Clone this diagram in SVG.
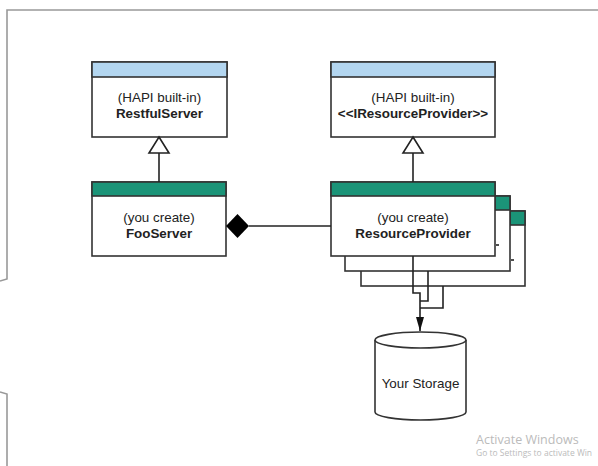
<svg xmlns="http://www.w3.org/2000/svg" width="598" height="466" viewBox="0 0 598 466">
<style>
.box{fill:#fff;stroke:#333;stroke-width:1.6}
.blue{fill:#b3d6f0;stroke:#333;stroke-width:1.6}
.green{fill:#1b9478;stroke:#333;stroke-width:1.6}
.ln{fill:none;stroke:#222;stroke-width:1.6}
.t{font-family:"Liberation Sans",Arial,sans-serif;font-size:13.4px;fill:#222;text-anchor:middle}
.b{font-weight:bold}
.frame{fill:none;stroke:#999;stroke-width:1.6}
.wm{font-family:"Open Sans","Liberation Sans",sans-serif;fill:#bbb}
</style>
<defs>
<marker id="tri" viewBox="0 0 22 17" refX="11" refY="0" markerWidth="22" markerHeight="17" markerUnits="userSpaceOnUse" orient="0" overflow="visible">
<polygon points="11,0 21,16 1,16" fill="#fff" stroke="#222" stroke-width="1.6"/>
</marker>
<marker id="arr" viewBox="0 0 8 14" refX="4" refY="14" markerWidth="8" markerHeight="14" markerUnits="userSpaceOnUse" orient="0">
<polygon points="0,0 8,0 4,14" fill="#111"/>
</marker>
</defs>
<rect width="598" height="466" fill="#fff"/>
<path class="frame" d="M598,10 H7 V279 L0,281"/>
<path class="frame" d="M0,392 L7,394 V466"/>

<g id="restfulserver">
<rect class="box" x="92" y="62" width="135" height="75"/>
<rect class="blue" x="92" y="62" width="135" height="15"/>
<text class="t" x="159.5" y="102">(HAPI built-in)</text>
<text class="t b" x="159.5" y="118">RestfulServer</text>
</g>

<g id="iresourceprovider">
<rect class="box" x="331" y="62" width="164" height="75"/>
<rect class="blue" x="331" y="62" width="164" height="15"/>
<text class="t" x="413" y="102">(HAPI built-in)</text>
<text class="t b" x="413" y="118">&lt;&lt;IResourceProvider&gt;&gt;</text>
</g>

<g id="fooserver">
<rect class="box" x="92" y="182" width="134" height="74"/>
<rect class="green" x="92" y="182" width="134" height="14"/>
<text class="t" x="159" y="222">(you create)</text>
<text class="t b" x="159" y="238">FooServer</text>
</g>

<g id="resourceprovider">
<rect class="box" x="361" y="211" width="164" height="75"/>
<rect class="green" x="510" y="211" width="15" height="14"/>
<rect class="box" x="345" y="196" width="165" height="75"/>
<rect class="green" x="495" y="196" width="15" height="14"/>
<rect class="box" x="331" y="182" width="164" height="74"/>
<rect class="green" x="331" y="182" width="164" height="14"/>
<text class="t" x="413" y="222">(you create)</text>
<text class="t b" x="413" y="238">ResourceProvider</text>
<line class="ln" x1="496" y1="245" x2="499" y2="245"/>
<line class="ln" x1="511" y1="260" x2="514" y2="260"/>
</g>

<g id="storage">
<path class="box" d="M375,340 V412 A45.5,8 0 0 0 466,412 V340"/>
<ellipse class="box" cx="420.5" cy="340" rx="45.5" ry="8"/>
<text class="t" x="420.5" y="388">Your Storage</text>
</g>

<g id="connectors">
<line class="ln" x1="159" y1="182" x2="159" y2="137" marker-end="url(#tri)"/>
<line class="ln" x1="413" y1="182" x2="413" y2="137" marker-end="url(#tri)"/>
<line class="ln" x1="249" y1="226" x2="331" y2="226"/>
<polygon points="226,226 237.5,214 249,226 237.5,238" fill="#000"/>
<path class="ln" d="M413,256 V293 H420 V331" marker-end="url(#arr)"/>
<path class="ln" d="M428,271 V301 H420"/>
<path class="ln" d="M443,286 V308 H420"/>
</g>

<text class="wm" x="476" y="444" font-size="12.5">Activate Windows</text>
<text class="wm" x="476" y="456" font-size="8.5">Go to Settings to activate Win</text>
</svg>
